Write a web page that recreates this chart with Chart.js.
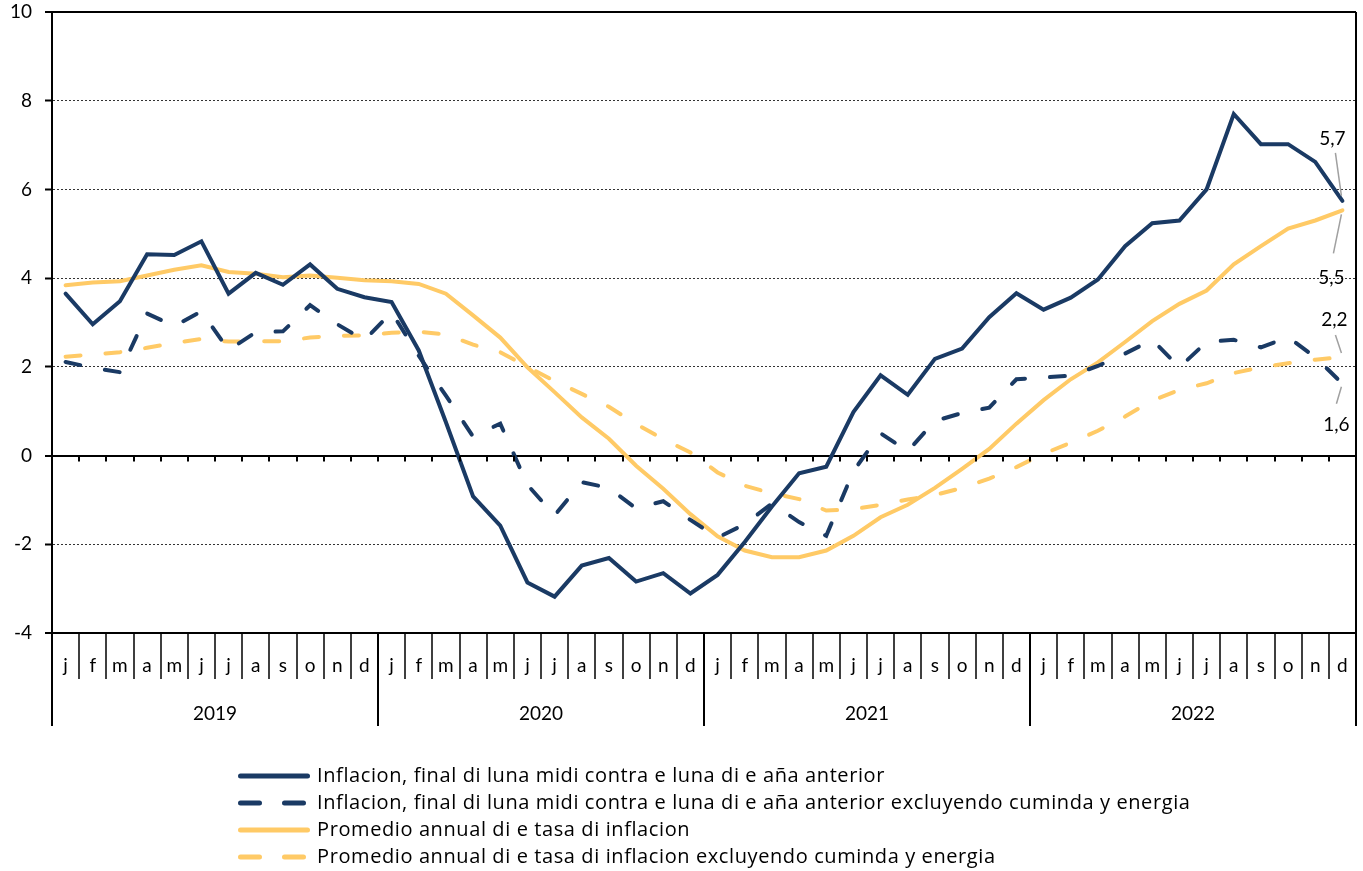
<!DOCTYPE html>
<html>
<head>
<meta charset="utf-8">
<script src="https://cdn.jsdelivr.net/npm/chart.js@4.4.1/dist/chart.umd.min.js"></script>
<style>
  html, body { margin: 0; padding: 0; background: #fff; }
  #wrap { width: 1363px; height: 871px; position: relative; }
</style>
</head>
<body>
<div id="wrap"><canvas id="chart"></canvas></div>
<script>
// Values
var months = ["j", "f", "m", "a", "m", "j", "j", "a", "s", "o", "n", "d"];
var years = ["2019", "2020", "2021", "2022"];
var yTicks = [-4, -2, 0, 2, 4, 6, 8, 10];

var inflacion = [
  3.65, 2.96, 3.48, 4.54, 4.52, 4.83, 3.65, 4.12, 3.85, 4.31, 3.76, 3.57,
  3.46, 2.37, 0.75, -0.92, -1.58, -2.86, -3.18, -2.48, -2.31, -2.84, -2.65, -3.11,
  -2.69, -1.95, -1.15, -0.40, -0.25, 0.98, 1.81, 1.37, 2.18, 2.41, 3.12, 3.66,
  3.29, 3.56, 3.97, 4.72, 5.24, 5.30, 6.00, 7.70, 7.02, 7.02, 6.62, 5.74
];
var inflacionCore = [
  2.11, 1.98, 1.88, 3.20, 2.92, 3.25, 2.38, 2.78, 2.80, 3.39, 2.96, 2.60,
  3.23, 2.25, 1.35, 0.43, 0.72, -0.66, -1.35, -0.60, -0.73, -1.19, -1.03, -1.45,
  -1.85, -1.55, -1.08, -1.50, -1.81, -0.35, 0.50, 0.10, 0.78, 0.96, 1.08, 1.72,
  1.76, 1.80, 2.02, 2.30, 2.61, 1.99, 2.56, 2.61, 2.44, 2.67, 2.22, 1.62
];
var promedio = [
  3.84, 3.90, 3.93, 4.06, 4.19, 4.29, 4.14, 4.10, 4.02, 4.06, 4.01, 3.95,
  3.93, 3.87, 3.65, 3.16, 2.66, 1.99, 1.43, 0.86, 0.38, -0.23, -0.75, -1.32,
  -1.82, -2.14, -2.29, -2.29, -2.14, -1.81, -1.39, -1.11, -0.73, -0.30, 0.15, 0.72,
  1.25, 1.72, 2.10, 2.56, 3.03, 3.42, 3.72, 4.31, 4.72, 5.12, 5.30, 5.53
];
var promedioCore = [
  2.23, 2.28, 2.33, 2.43, 2.54, 2.63, 2.57, 2.58, 2.58, 2.66, 2.70, 2.71,
  2.77, 2.79, 2.73, 2.50, 2.33, 2.00, 1.68, 1.39, 1.10, 0.71, 0.37, 0.07,
  -0.38, -0.68, -0.85, -0.98, -1.24, -1.21, -1.11, -0.99, -0.89, -0.73, -0.52, -0.26,
  0.04, 0.29, 0.56, 0.88, 1.24, 1.48, 1.63, 1.86, 1.99, 2.08, 2.16, 2.22
];
var legendNames = [
  "Inflacion, final di luna midi contra e luna di e aña anterior",
  "Inflacion, final di luna midi contra e luna di e aña anterior excluyendo cuminda y energia",
  "Promedio annual di e tasa di inflacion",
  "Promedio annual di e tasa di inflacion excluyendo cuminda y energia"
];

var NAVY = "#1a3a64";
var GOLD = "#ffca66";
var FONT = "Lato, 'Open Sans', sans-serif";
var LEGEND_FONT = "'Open Sans', Lato, sans-serif";

var labels = [];
years.forEach(function () { months.forEach(function (m) { labels.push(m); }); });

function fmt(v) { return v.toFixed(1).replace(".", ","); }

// bottom month/year boxes, frame, zero ticks, end labels, legend
var decorPlugin = {
  id: "decor",
  afterDraw: function (chart) {
    var c = chart.ctx;
    var a = chart.chartArea;
    var xs = chart.scales.x;
    var ys = chart.scales.y;
    var n = labels.length;
    var w = (a.right - a.left) / n;
    var y0 = ys.getPixelForValue(0);
    var bottom = a.bottom;
    c.save();
    c.strokeStyle = "#000";
    c.lineCap = "butt";

    // frame top & right
    c.lineWidth = 2;
    c.beginPath();
    c.moveTo(a.left, a.top); c.lineTo(a.right, a.top);
    c.moveTo(a.right, a.top); c.lineTo(a.right, bottom + 93);
    c.moveTo(a.left, bottom); c.lineTo(a.left, bottom + 93);
    c.stroke();

    // ticks under zero line
    c.beginPath();
    for (var i = 0; i <= n; i++) {
      var x = Math.round(a.left + i * w);
      c.moveTo(x, y0); c.lineTo(x, y0 + 6);
    }
    c.stroke();

    // month separators
    c.lineWidth = 1.5;
    c.beginPath();
    for (i = 1; i < n; i++) {
      if (i % 12 === 0) continue;
      x = Math.round(a.left + i * w);
      c.moveTo(x, bottom); c.lineTo(x, bottom + 46);
    }
    c.stroke();
    // year separators
    c.lineWidth = 2;
    c.beginPath();
    for (i = 12; i < n; i += 12) {
      x = Math.round(a.left + i * w);
      c.moveTo(x, bottom); c.lineTo(x, bottom + 93);
    }
    c.stroke();

    // month + year labels
    c.fillStyle = "#000";
    c.font = "19px " + FONT;
    c.textAlign = "center";
    c.textBaseline = "middle";
    for (i = 0; i < n; i++) {
      c.fillText(labels[i], xs.getPixelForValue(i), bottom + 33);
    }
    years.forEach(function (yr, k) {
      var mid = (xs.getPixelForValue(k * 12) + xs.getPixelForValue(k * 12 + 11)) / 2;
      c.fillText(yr, mid, bottom + 81);
    });

    // end-of-series labels with leader lines
    var ends = [
      { ds: 0, lx: -10, ly: -62, sx: -7, sy: -48, ex: -1, ey: -5 },
      { ds: 1, lx: -6, ly: 41, sx: -6, sy: 20, ex: -1, ey: 3 },
      { ds: 2, lx: -11, ly: 68, sx: -9, sy: 43, ex: -1, ey: 4 },
      { ds: 3, lx: -8, ly: -37, sx: -7, sy: -22, ex: -1, ey: -4 }
    ];
    ends.forEach(function (e) {
      var data = chart.data.datasets[e.ds].data;
      var last = data.length - 1;
      var px = xs.getPixelForValue(last);
      var py = ys.getPixelForValue(data[last]);
      c.strokeStyle = "#a0a0a0";
      c.lineWidth = 1.5;
      c.beginPath();
      c.moveTo(px + e.sx, py + e.sy); c.lineTo(px + e.ex, py + e.ey);
      c.stroke();
      c.fillStyle = "#000";
      c.fillText(fmt(data[last]), px + e.lx, py + e.ly);
    });

    // legend
    c.textAlign = "left";
    c.font = "20px " + LEGEND_FONT;
    c.letterSpacing = "0.6px";
    chart.data.datasets.forEach(function (d, k) {
      var ly = 776 + k * 27;
      c.strokeStyle = d.borderColor;
      c.lineWidth = 5;
      c.lineCap = "round";
      c.setLineDash(d.borderDash && d.borderDash.length ? [19, 25] : []);
      c.beginPath();
      c.moveTo(240.5, ly); c.lineTo(307.5, ly);
      c.stroke();
      c.setLineDash([]);
      c.fillStyle = "#000";
      c.fillText(d.label, 317, ly);
    });
    c.restore();
  }
};

function line(label, data, color, dashed) {
  return {
    label: label,
    data: data,
    borderColor: color,
    backgroundColor: color,
    borderWidth: 4,
    borderDash: dashed ? [15, 25] : [],
    borderCapStyle: "round",
    pointRadius: 0,
    tension: 0,
    fill: false
  };
}

var edgeValues = [0, 10, -4];

new Chart(document.getElementById("chart").getContext("2d"), {
  type: "line",
  data: {
    labels: labels,
    datasets: [
      line(legendNames[0], inflacion, NAVY, false),
      line(legendNames[1], inflacionCore, NAVY, true),
      line(legendNames[2], promedio, GOLD, false),
      line(legendNames[3], promedioCore, GOLD, true)
    ]
  },
  options: {
    responsive: true,
    maintainAspectRatio: false,
    animation: false,
    layout: { padding: { top: 12, right: 7, bottom: 238, left: 0 } },
    plugins: { legend: { display: false }, tooltip: { enabled: false } },
    scales: {
      x: {
        type: "category",
        offset: true,
        display: false
      },
      y: {
        min: -4,
        max: 10,
        afterFit: function (s) {
          s.width = 52;
          s.paddingTop = 0;
          s.paddingBottom = 0;
        },
        afterBuildTicks: function (s) { s.ticks = yTicks.map(function (v) { return { value: v }; }); },
        ticks: {
          color: "#000",
          padding: 13,
          font: { family: FONT, size: 19 }
        },
        grid: {
          color: function (ctx) {
            return ctx.tick && edgeValues.indexOf(ctx.tick.value) < 0 ? "#333" : "#000";
          },
          lineWidth: function (ctx) {
            return ctx.tick && edgeValues.indexOf(ctx.tick.value) < 0 ? 1 : 2;
          },
          tickLength: 7,
          tickWidth: 2,
          tickColor: "#000"
        },
        border: {
          display: true,
          color: "#000",
          width: 2,
          dash: function (ctx) {
            return ctx.tick && edgeValues.indexOf(ctx.tick.value) < 0 ? [2, 2] : [];
          }
        }
      }
    }
  },
  plugins: [decorPlugin]
});
</script>
</body>
</html>
